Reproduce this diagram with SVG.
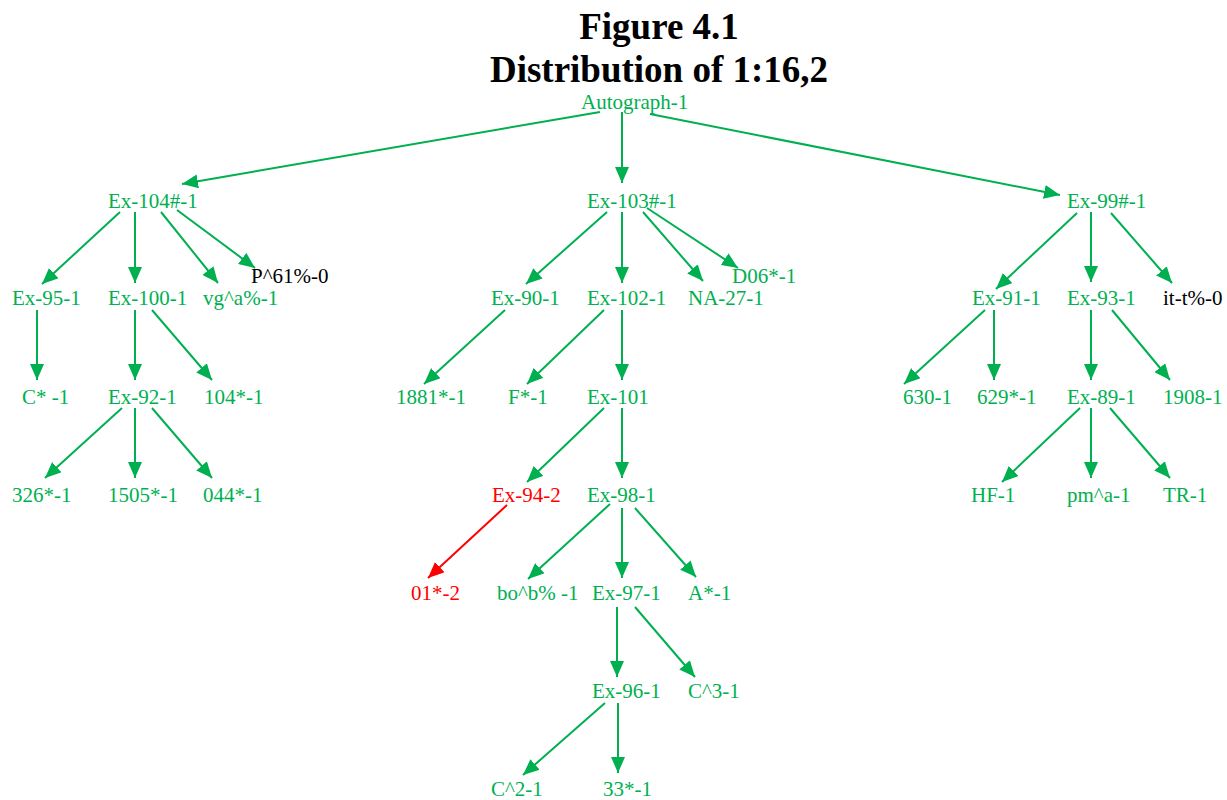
<svg xmlns="http://www.w3.org/2000/svg" width="1227" height="800" viewBox="0 0 1227 800">
<style>
.t{font-family:"Liberation Serif","Times New Roman",serif;font-size:21px;fill:#00b050}
.b{fill:#000}
.r{fill:#ff0000}
.ti{font-family:"Liberation Serif","Times New Roman",serif;font-size:37px;font-weight:bold;fill:#000;text-anchor:middle}
.e line{stroke:#00b050;stroke-width:2;marker-end:url(#ag)}
.e line.rl{stroke:#ff0000;marker-end:url(#ar)}
</style>
<defs>
<marker id="ag" markerUnits="userSpaceOnUse" markerWidth="18" markerHeight="14" refX="16" refY="7" orient="auto"><path d="M0,0 L16,7 L0,14 z" fill="#00b050"/></marker>
<marker id="ar" markerUnits="userSpaceOnUse" markerWidth="18" markerHeight="14" refX="16" refY="7" orient="auto"><path d="M0,0 L16,7 L0,14 z" fill="#ff0000"/></marker>
</defs>
<rect width="1227" height="800" fill="#fff"/>
<g id="title"><text class="ti" x="659" y="39">Figure 4.1</text><text class="ti" x="659" y="82">Distribution of 1:16,2</text></g>
<g class="e" id="connectors">
<line x1="600" y1="112" x2="182" y2="184"/>
<line x1="622" y1="112" x2="622" y2="183"/>
<line x1="650" y1="114" x2="1060" y2="195"/>
<line x1="120" y1="212" x2="42" y2="284"/>
<line x1="135" y1="212" x2="135" y2="283"/>
<line x1="161" y1="212" x2="218" y2="283"/>
<line x1="177" y1="210" x2="255" y2="268"/>
<line x1="607" y1="212" x2="526" y2="284"/>
<line x1="622" y1="212" x2="622" y2="283"/>
<line x1="643" y1="212" x2="703" y2="281"/>
<line x1="647" y1="208" x2="738" y2="268"/>
<line x1="1077" y1="213" x2="996" y2="289"/>
<line x1="1091" y1="212" x2="1091" y2="282"/>
<line x1="1111" y1="213" x2="1172" y2="283"/>
<line x1="37" y1="310" x2="37" y2="380"/>
<line x1="135" y1="310" x2="135" y2="380"/>
<line x1="152" y1="310" x2="212" y2="380"/>
<line x1="122" y1="408" x2="45" y2="478"/>
<line x1="135" y1="408" x2="135" y2="478"/>
<line x1="152" y1="408" x2="212" y2="478"/>
<line x1="505" y1="310" x2="424" y2="384"/>
<line x1="604" y1="310" x2="527" y2="384"/>
<line x1="622" y1="310" x2="622" y2="380"/>
<line x1="604" y1="408" x2="527" y2="482"/>
<line x1="622" y1="408" x2="622" y2="478"/>
<line class="rl" x1="507" y1="505" x2="428" y2="578"/>
<line x1="610" y1="504" x2="528" y2="579"/>
<line x1="622" y1="508" x2="622" y2="578"/>
<line x1="635" y1="508" x2="696" y2="577"/>
<line x1="617" y1="607" x2="617" y2="677"/>
<line x1="635" y1="607" x2="695" y2="677"/>
<line x1="605" y1="703" x2="523" y2="775"/>
<line x1="618" y1="703" x2="618" y2="773"/>
<line x1="985" y1="310" x2="904" y2="384"/>
<line x1="994" y1="310" x2="994" y2="380"/>
<line x1="1091" y1="310" x2="1091" y2="380"/>
<line x1="1112" y1="310" x2="1170" y2="380"/>
<line x1="1080" y1="408" x2="1002" y2="482"/>
<line x1="1091" y1="408" x2="1091" y2="478"/>
<line x1="1110" y1="408" x2="1170" y2="478"/>
</g>
<g id="n-autograph"><text class="t" x="581" y="109">Autograph-1</text></g>
<g id="n-ex104"><text class="t" x="108" y="208">Ex-104#-1</text></g>
<g id="n-ex103"><text class="t" x="587" y="208">Ex-103#-1</text></g>
<g id="n-ex99"><text class="t" x="1067" y="208">Ex-99#-1</text></g>
<g id="n-ex95"><text class="t" x="12" y="305">Ex-95-1</text></g>
<g id="n-ex100"><text class="t" x="108" y="305">Ex-100-1</text></g>
<g id="n-vga"><text class="t" x="203" y="305">vg^a%-1</text></g>
<g id="n-p61"><text class="t b" x="251" y="283">P^61%-0</text></g>
<g id="n-ex90"><text class="t" x="491" y="305">Ex-90-1</text></g>
<g id="n-ex102"><text class="t" x="587" y="305">Ex-102-1</text></g>
<g id="n-na27"><text class="t" x="688" y="305">NA-27-1</text></g>
<g id="n-d06"><text class="t" x="732" y="283">D06*-1</text></g>
<g id="n-ex91"><text class="t" x="972" y="305">Ex-91-1</text></g>
<g id="n-ex93"><text class="t" x="1067" y="305">Ex-93-1</text></g>
<g id="n-itt"><text class="t b" x="1163" y="305">it-t%-0</text></g>
<g id="n-c"><text class="t" x="22" y="404">C* -1</text></g>
<g id="n-ex92"><text class="t" x="108" y="404">Ex-92-1</text></g>
<g id="n-104"><text class="t" x="204" y="404">104*-1</text></g>
<g id="n-1881"><text class="t" x="396" y="404">1881*-1</text></g>
<g id="n-f"><text class="t" x="508" y="404">F*-1</text></g>
<g id="n-ex101"><text class="t" x="587" y="404">Ex-101</text></g>
<g id="n-630"><text class="t" x="903" y="404">630-1</text></g>
<g id="n-629"><text class="t" x="977" y="404">629*-1</text></g>
<g id="n-ex89"><text class="t" x="1067" y="404">Ex-89-1</text></g>
<g id="n-1908"><text class="t" x="1163" y="404">1908-1</text></g>
<g id="n-326"><text class="t" x="12" y="502">326*-1</text></g>
<g id="n-1505"><text class="t" x="108" y="502">1505*-1</text></g>
<g id="n-044"><text class="t" x="203" y="502">044*-1</text></g>
<g id="n-ex94"><text class="t r" x="492" y="502">Ex-94-2</text></g>
<g id="n-ex98"><text class="t" x="587" y="502">Ex-98-1</text></g>
<g id="n-hf"><text class="t" x="971" y="502">HF-1</text></g>
<g id="n-pma"><text class="t" x="1067" y="502">pm^a-1</text></g>
<g id="n-tr"><text class="t" x="1163" y="502">TR-1</text></g>
<g id="n-01"><text class="t r" x="411" y="600">01*-2</text></g>
<g id="n-bob"><text class="t" x="497" y="600">bo^b% -1</text></g>
<g id="n-ex97"><text class="t" x="592" y="600">Ex-97-1</text></g>
<g id="n-a"><text class="t" x="688" y="600">A*-1</text></g>
<g id="n-ex96"><text class="t" x="592" y="698">Ex-96-1</text></g>
<g id="n-c3"><text class="t" x="688" y="698">C^3-1</text></g>
<g id="n-c2"><text class="t" x="491" y="796">C^2-1</text></g>
<g id="n-33"><text class="t" x="603" y="796">33*-1</text></g>
</svg>
